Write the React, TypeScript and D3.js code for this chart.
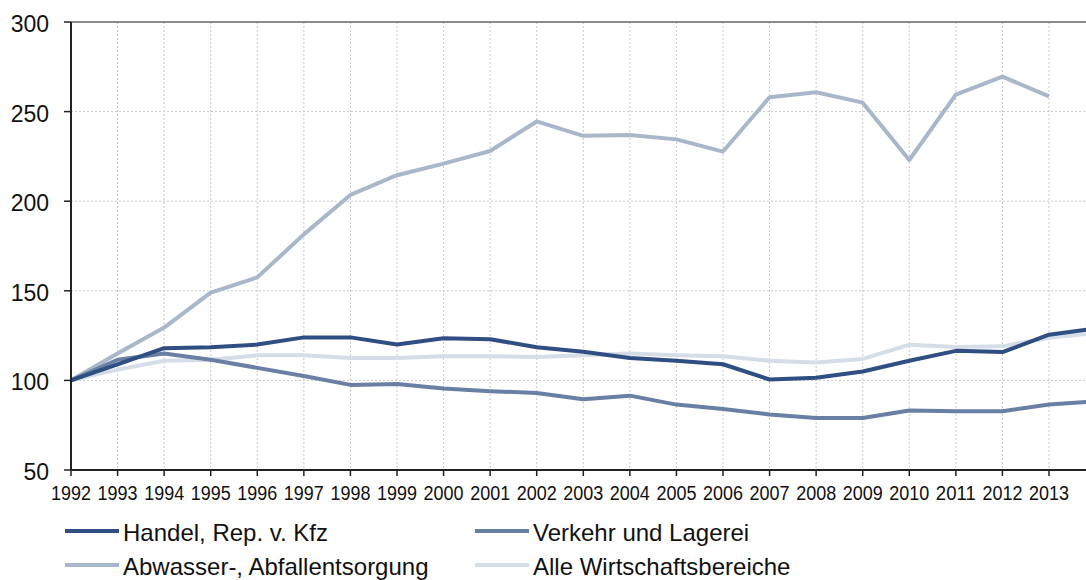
import React from 'react';
import * as d3 from 'd3';

// Index 1992 = 100
const years = d3.range(1992, 2015);
const tickYears = d3.range(1992, 2014);
const yTicks = [50, 100, 150, 200, 250, 300];

const handel = [100, 109, 118, 118.5, 120, 124, 124, 120, 123.5, 123, 118.5, 116, 112.5, 111, 109, 100.5, 101.5, 105, 111, 116.5, 115.8, 125.5, 129];
const verkehr = [100, 111.5, 115, 111.5, 107, 102.5, 97.5, 98, 95.5, 94, 93, 89.5, 91.5, 86.5, 84, 81, 79, 79, 83.2, 82.8, 82.8, 86.6, 88.3];
const abwasser = [100, 115, 129.5, 149, 157.5, 181.5, 203.5, 214.5, 221, 228, 244.5, 236.5, 237, 234.5, 227.7, 258, 260.8, 255, 223, 259.5, 269.5, 258.5];
const alle = [100, 106, 111, 111.5, 114, 114, 112.5, 112.5, 113.5, 113.5, 113, 114, 115, 114, 113.5, 111, 110, 112, 119.9, 118.6, 119, 123.8, 126.5];

const series = [
  { name: 'Alle Wirtschaftsbereiche', values: alle, color: '#d5dde8' },
  { name: 'Abwasser-, Abfallentsorgung', values: abwasser, color: '#a9b7ca' },
  { name: 'Verkehr und Lagerei', values: verkehr, color: '#6a7fa4' },
  { name: 'Handel, Rep. v. Kfz', values: handel, color: '#2f4f82' },
];

const legendOrder = [
  'Handel, Rep. v. Kfz',
  'Verkehr und Lagerei',
  'Abwasser-, Abfallentsorgung',
  'Alle Wirtschaftsbereiche',
];

const W = 1086;
const H = 580;
const left = 71;
const top = 22;
const bottom = 470;

export default function App() {
  const x = d3.scaleLinear().domain([1992, 2013]).range([left, 1049]);
  const y = d3.scaleLinear().domain([50, 300]).range([bottom, top]);
  const line = d3
    .line<number>()
    .x((_, i) => x(years[i]))
    .y((d) => y(d));

  const font = '"Liberation Sans", Arial, sans-serif';

  return (
    <svg
      width={W}
      height={H}
      style={{ position: 'absolute', left: 0, top: 0, background: '#fff' }}
      fontFamily={font}
    >
      <defs>
        <clipPath id="plot">
          <rect x={left} y={0} width={W - left} height={bottom} />
        </clipPath>
      </defs>

      {/* grid */}
      {tickYears.slice(1).map((yr) => (
        <line key={yr} x1={x(yr)} x2={x(yr)} y1={top} y2={bottom} stroke="#c8c8c8" strokeDasharray="2,2" />
      ))}
      {yTicks.slice(1, -1).map((v) => (
        <line key={v} x1={left} x2={W} y1={y(v)} y2={y(v)} stroke="#c8c8c8" strokeDasharray="2,2" />
      ))}
      <line x1={left} x2={W} y1={top} y2={top} stroke="#666" strokeWidth={1.5} />

      {/* lines */}
      <g clipPath="url(#plot)">
        {series.map((s) => (
          <path key={s.name} d={line(s.values) || ''} fill="none" stroke={s.color} strokeWidth={4} strokeLinejoin="round" />
        ))}
      </g>

      {/* axes */}
      <line x1={left} x2={left} y1={top} y2={bottom + 1} stroke="#222" strokeWidth={2} />
      <line x1={left} x2={W} y1={bottom} y2={bottom} stroke="#222" strokeWidth={2} />
      {yTicks.map((v) => (
        <g key={v}>
          <line x1={64} x2={left} y1={y(v)} y2={y(v)} stroke="#222" strokeWidth={1.5} />
          <text x={49} y={y(v) + 10} textAnchor="end" fontSize={23} fill="#111">
            {v}
          </text>
        </g>
      ))}
      {tickYears.map((yr) => (
        <g key={yr}>
          <line x1={x(yr)} x2={x(yr)} y1={bottom} y2={bottom + 6} stroke="#222" strokeWidth={1.5} />
          <text
            x={x(yr)}
            y={500}
            textAnchor="middle"
            fontSize={20}
            textLength={40}
            lengthAdjust="spacingAndGlyphs"
            fill="#111"
          >
            {yr}
          </text>
        </g>
      ))}

      {/* legend */}
      {legendOrder.map((name, i) => {
        const s = series.find((d) => d.name === name)!;
        const col = i % 2;
        const row = Math.floor(i / 2);
        const lx = col === 0 ? 65 : 475;
        const ly = row === 0 ? 531 : 565;
        return (
          <g key={name}>
            <line x1={lx} x2={lx + 54} y1={ly} y2={ly} stroke={s.color} strokeWidth={4} />
            <text x={lx + 58} y={ly + 10} fontSize={24} fill="#111">
              {name}
            </text>
          </g>
        );
      })}
    </svg>
  );
}
